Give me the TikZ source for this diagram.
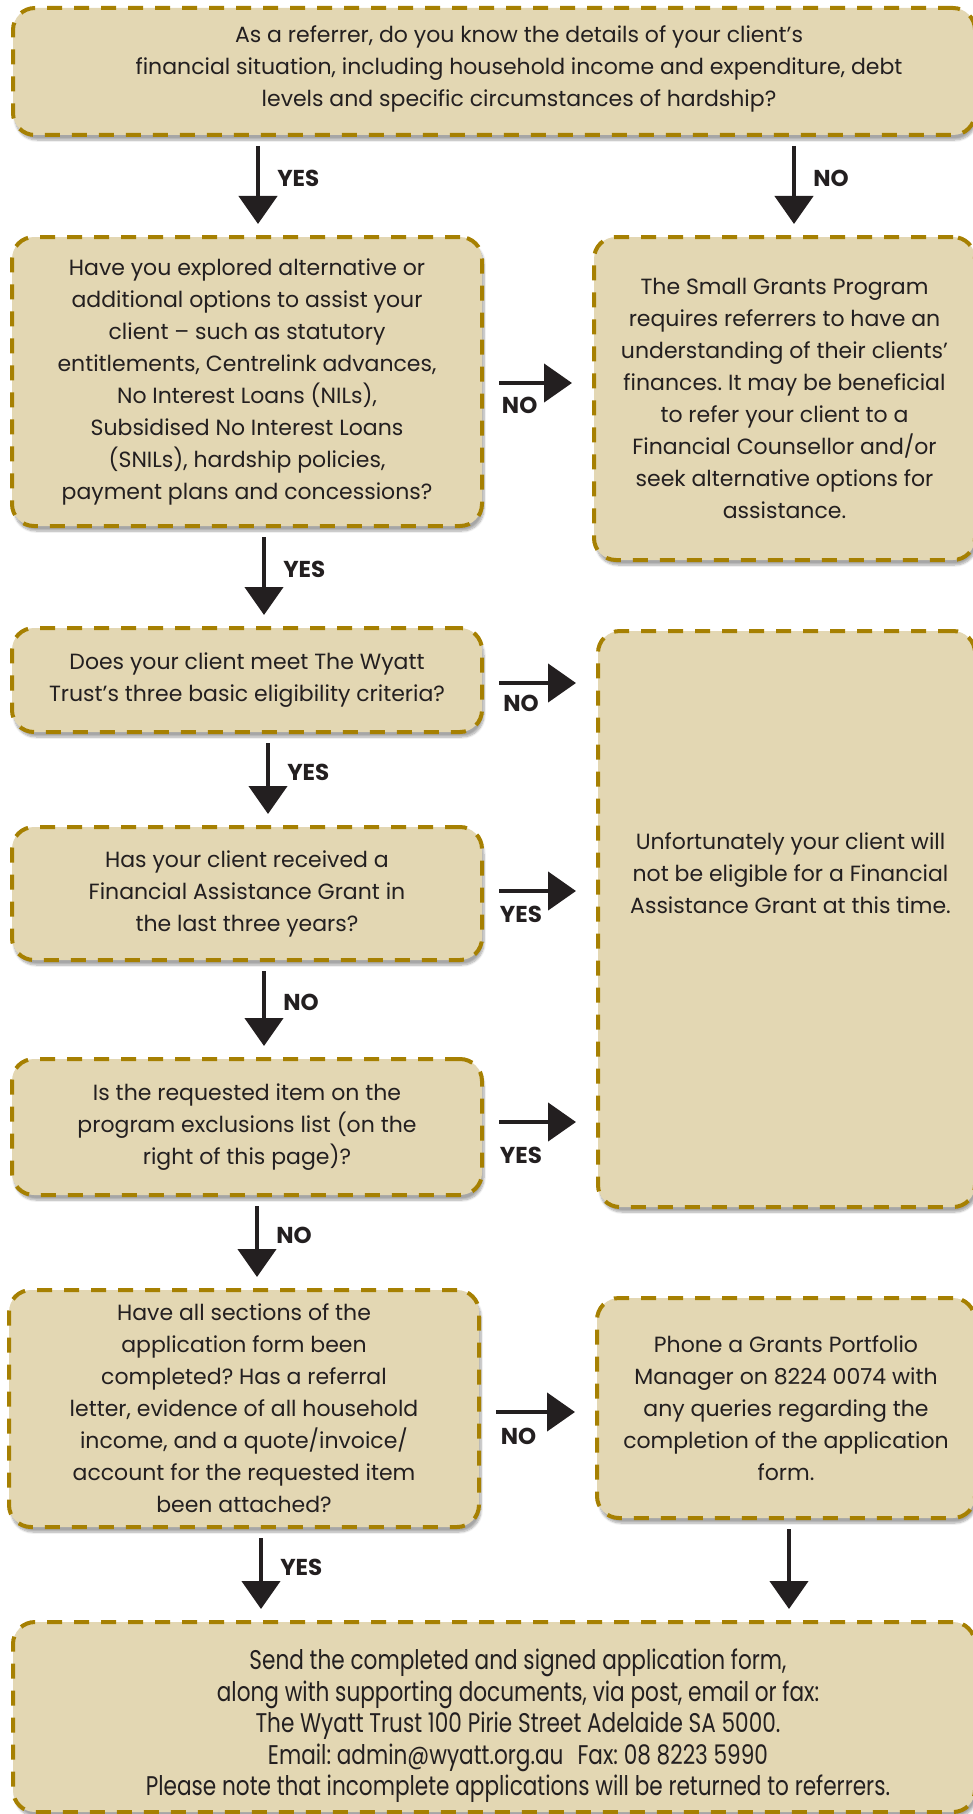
\documentclass[tikz,border=0pt]{standalone}
\usepackage{fontspec}
\setmainfont{Poppins}
\newfontfamily\condfont[FakeStretch=0.8]{Poppins}
\usetikzlibrary{arrows.meta,shadows.blur}
\definecolor{wyattFill}{RGB}{227,215,179}
\definecolor{wyattGold}{RGB}{166,128,2}
\definecolor{wyattInk} {RGB}{35,31,32}
\frenchspacing

\begin{document}
\begin{tikzpicture}[x=1pt,y=-1pt,
    box/.style={draw=wyattGold,fill=wyattFill,line width=4pt,
      dash pattern=on 15pt off 12pt,rounded corners=22pt,inner sep=0pt,
      align=center,text=wyattInk,font=\fontsize{22}{32}\selectfont,
      blur shadow={shadow xshift=2pt,shadow yshift=-5pt,
        shadow opacity=35,shadow blur steps=8}},
    txt/.style={align=center,text=wyattInk,inner sep=0pt,
      font=\fontsize{22}{32}\selectfont},
    flow/.style={wyattInk,line width=4.5pt,
      -{Triangle[width=38pt,length=28pt]},shorten <=9pt,shorten >=11pt},
    hflow/.style={flow,shorten <=15pt,shorten >=20pt},
    ans/.style={font=\fontsize{23}{23}\selectfont\bfseries,
      text=wyattInk,inner sep=0pt}]
  \useasboundingbox (0,0) rectangle (973,1814);

  % questions (left column)
  \node[box,minimum width=962pt,minimum height=127pt,
    label={[txt,xshift=25pt,yshift=3pt]center:As a referrer, do you know the details of your client’s\\
      financial situation, including household income and expenditure, debt\\
      levels and specific circumstances of hardship?}] (q1) at (494,71.5) {};
  \node[box,minimum width=470pt,minimum height=289pt] (q2) at (247,381.5)
    {Have you explored alternative or\\ additional options to assist your\\
     client – such as statutory\\ entitlements, Centrelink advances,\\
     No Interest Loans (NILs),\\ Subsidised No Interest Loans\\
     (SNILs), hardship policies,\\ payment plans and concessions?};
  \node[box,minimum width=470pt,minimum height=104pt] (q3) at (247,680)
    {Does your client meet The Wyatt\\ Trust’s three basic eligibility criteria?};
  \node[box,minimum width=470pt,minimum height=133pt] (q4) at (247,893.5)
    {Has your client received a\\ Financial Assistance Grant in\\ the last three years?};
  \node[box,minimum width=470pt,minimum height=136pt] (q5) at (247,1127)
    {Is the requested item on the\\ program exclusions list (on the\\ right of this page)?};
  \node[box,minimum width=470pt,minimum height=237pt] (q6) at (244,1408.5)
    {Have all sections of the\\ application form been\\ completed? Has a referral\\
     letter, evidence of all household\\ income, and a quote/invoice/\\
     account for the requested item\\ been attached?};

  % outcomes (right column)
  \node[box,minimum width=381pt,minimum height=323pt] (n2) at (784.5,398.5)
    {The Small Grants Program\\ requires referrers to have an\\
     understanding of their clients’\\ finances. It may be beneficial\\
     to refer your client to a\\ Financial Counsellor and/or\\
     seek alternative options for\\ assistance.};
  \node[box,minimum width=377pt,minimum height=576pt,
    label={[txt,xshift=4pt,yshift=46pt]center:Unfortunately your client will\\
      not be eligible for a Financial\\ Assistance Grant at this time.}] (n3) at (786.5,919) {};
  \node[box,minimum width=378pt,minimum height=220pt] (n6) at (786,1408)
    {Phone a Grants Portfolio\\ Manager on 8224 0074 with\\ any queries regarding the\\
     completion of the application\\ form.};
  \node[box,minimum width=962pt,minimum height=190pt,
    label={[txt,xshift=24pt,yshift=-9pt,font=\condfont\fontsize{27}{31.5}\selectfont]center:Send the completed and signed application form,\\
      along with supporting documents, via post, email or fax:\\
      The Wyatt Trust 100 Pirie Street Adelaide SA 5000.\\
      Email: admin@wyatt.org.au\hspace{14pt}Fax: 08 8223 5990\\
      Please note that incomplete applications will be returned to referrers.}] (fin) at (494,1717) {};

  % downward answers
  \foreach \from/\to/\x/\lab in {q1/q2/258/YES, q1/n2/794/NO, q2/q3/264/YES,
      q3/q4/268/YES, q4/q5/264/NO, q5/q6/257/NO, q6/fin/261/YES}{
    \draw[flow] (\from.south -| \x,0) -- (\to.north -| \x,0)
      node[ans,pos=0.42,anchor=west,xshift=17pt] {\lab};
  }
  \draw[flow] (n6.south -| 789,0) -- (fin.north -| 789,0);

  % sideways answers
  \foreach \from/\to/\y/\lab/\dy in {q2/n2/383/NO/22, q3/n3/683/NO/20,
      q4/n3/891/YES/23, q5/n3/1122/YES/33, q6/n6/1412/NO/24}{
    \draw[hflow] (\from.east |- 0,\y) -- (\to.west |- 0,\y)
      node[ans,pos=0.33,yshift=-\dy pt] {\lab};
  }
\end{tikzpicture}
\end{document}
